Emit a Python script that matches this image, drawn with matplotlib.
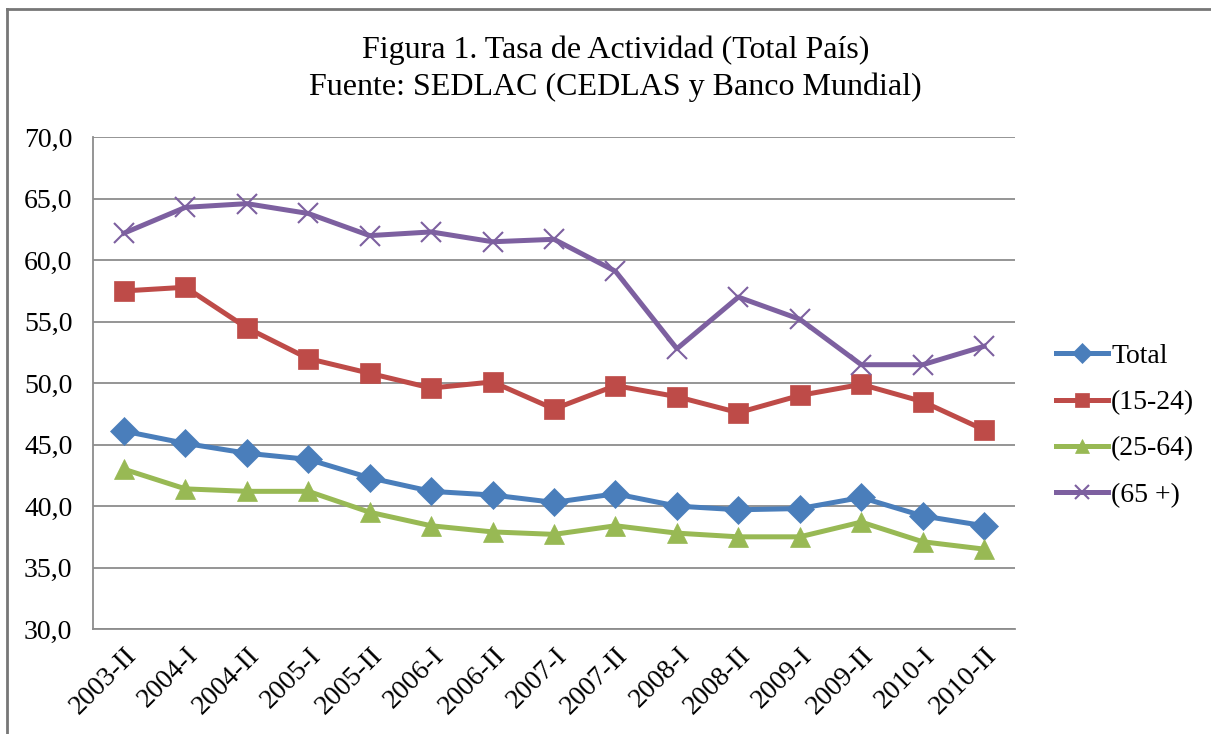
import matplotlib
matplotlib.use("Agg")
import matplotlib.pyplot as plt
from matplotlib.lines import Line2D

plt.rcParams['font.family'] = ['Liberation Serif', 'DejaVu Serif']

periodos = ["2003-II", "2004-I", "2004-II", "2005-I", "2005-II", "2006-I", "2006-II",
            "2007-I", "2007-II", "2008-I", "2008-II", "2009-I", "2009-II", "2010-I", "2010-II"]
total = [46.1, 45.1, 44.3, 43.8, 42.3, 41.2, 40.9, 40.3, 41.0, 40.0, 39.7, 39.8, 40.7, 39.2, 38.4]
jovenes = [57.5, 57.8, 54.5, 52.0, 50.8, 49.6, 50.1, 47.9, 49.8, 48.9, 47.6, 49.0, 49.9, 48.5, 46.2]
adultos = [43.0, 41.4, 41.2, 41.2, 39.5, 38.4, 37.9, 37.7, 38.4, 37.8, 37.5, 37.5, 38.7, 37.1, 36.5]
mayores = [62.2, 64.3, 64.6, 63.8, 62.0, 62.3, 61.5, 61.7, 59.1, 52.8, 57.0, 55.2, 51.5, 51.5, 53.0]
yticks = [30, 35, 40, 45, 50, 55, 60, 65, 70]

series = [
    ("Total", total, "#4A7EBB", "D", 14),
    ("(15-24)", jovenes, "#BE4B48", "s", 15),
    ("(25-64)", adultos, "#98B954", "^", 15),
    ("(65+)", mayores, "#7D60A0", "x", 15),
]

fig = plt.figure(figsize=(12.11, 7.34), dpi=100)
ax = fig.add_axes([0.077, 0.143, 0.761, 0.670])

x = range(len(periodos))
for nombre, vals, color, mk, ms in series:
    ax.plot(x, vals, color=color, lw=3.6, marker=mk, markersize=ms,
            markeredgewidth=1.5 if mk == "x" else 0.5, markeredgecolor=color,
            label=nombre)

ax.set_xlim(-0.5, len(periodos) - 0.5)
ax.set_ylim(30, 70)
ax.set_yticks(yticks)
ax.set_yticklabels([("%.1f" % v).replace(".", ",") for v in yticks])
ax.set_xticks(list(x))
ax.set_xticklabels(periodos, rotation=45, ha="right", va="top", rotation_mode="anchor")
ax.tick_params(axis="both", length=0, labelsize=20, colors="black")
ax.tick_params(axis="y", pad=15)
ax.tick_params(axis="x", pad=10)
ax.grid(axis="y", color="#8c8c8c", lw=1.3)
ax.set_axisbelow(True)
for s in ["top", "right"]:
    ax.spines[s].set_visible(False)
for s in ["left", "bottom"]:
    ax.spines[s].set_color("#8c8c8c")
    ax.spines[s].set_linewidth(1.3)

fig.text(0.508, 0.932, "Figura 1. Tasa de Actividad (Total País)", ha="center", va="center", fontsize=23)
fig.text(0.508, 0.881, "Fuente: SEDLAC (CEDLAS y Banco Mundial)", ha="center", va="center", fontsize=23)

handles, labels = ax.get_legend_handles_labels()
leg = fig.legend(handles, ["Total", "(15-24)", "(25-64)", "(65 +)"], loc="center left",
                 bbox_to_anchor=(0.851, 0.42), frameon=False, fontsize=20,
                 handlelength=1.9, handletextpad=0.1, labelspacing=0.75, markerscale=0.7)

# borde del grafico
fig.add_artist(Line2D([0.006, 0.006], [0.0, 0.988], color="#777777", lw=2))
fig.add_artist(Line2D([0.006, 1.0], [0.988, 0.988], color="#777777", lw=2))

fig.savefig("out.png", dpi=100, facecolor="white")
